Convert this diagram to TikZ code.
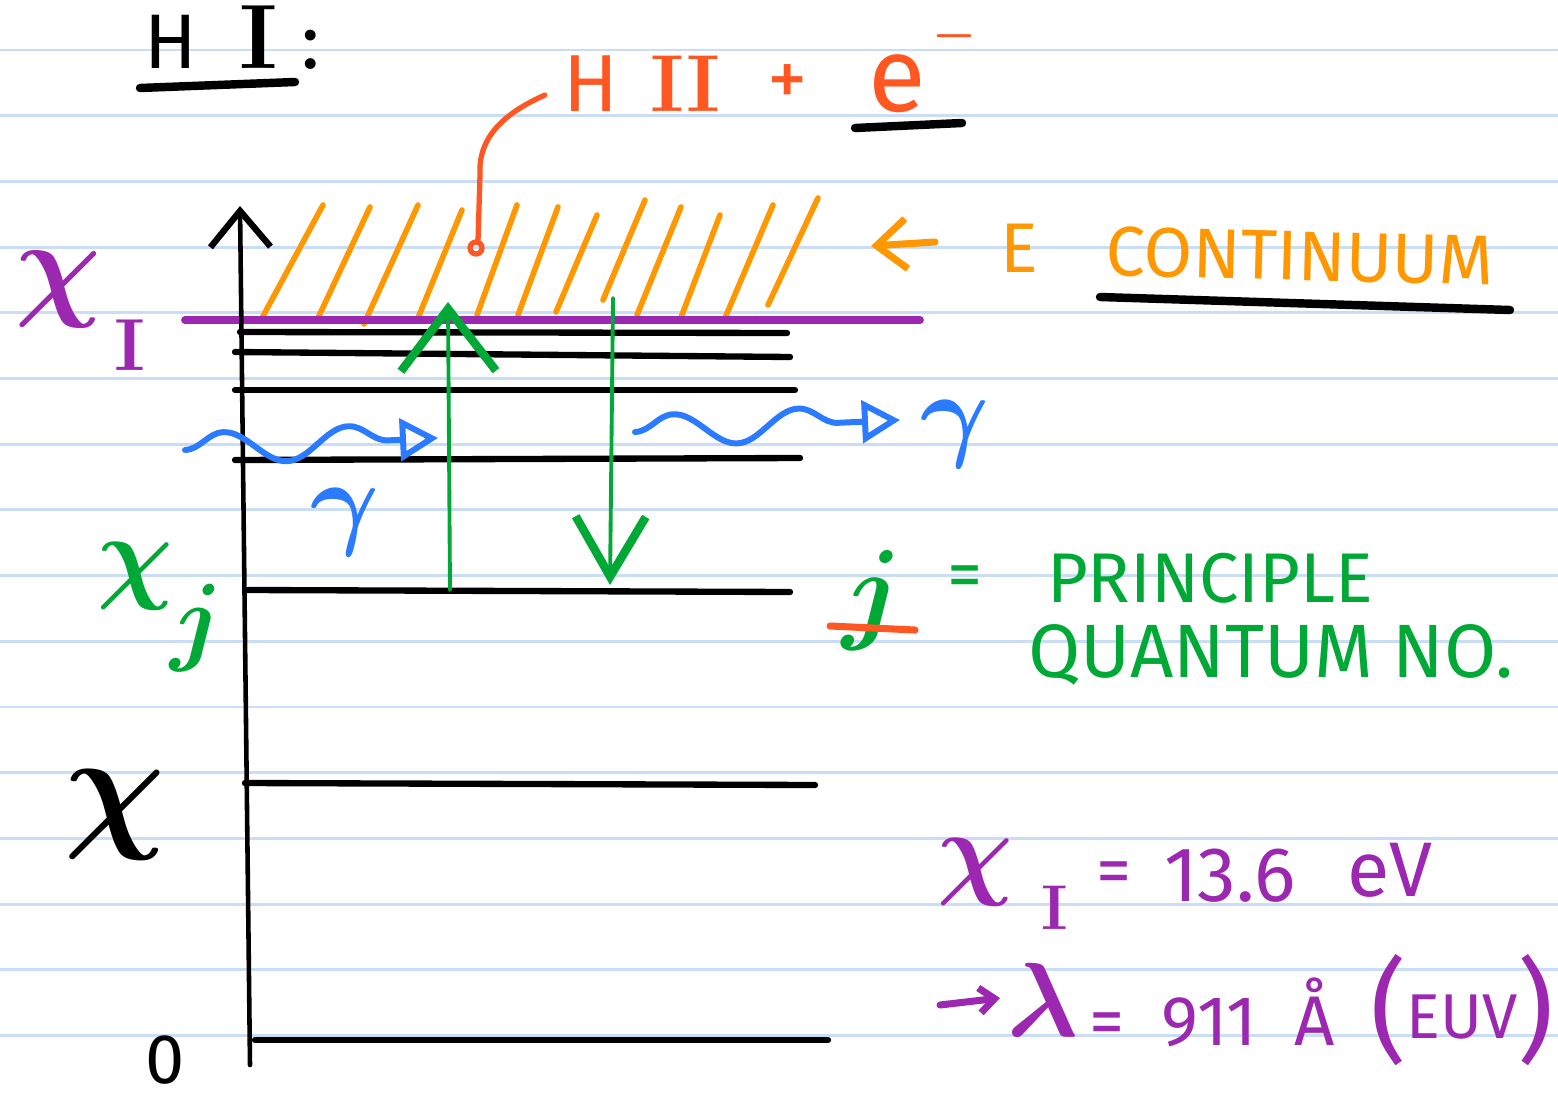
\documentclass[tikz,border=0pt]{standalone}
\usepackage{fontspec}
\setsansfont{Fira Sans}
\usetikzlibrary{arrows.meta,decorations.pathmorphing}
\definecolor{ruled}{HTML}{C9DDF7}
\definecolor{ionpurple}{HTML}{9C27B0}
\definecolor{contorange}{HTML}{FF9800}
\definecolor{ionred}{HTML}{FF5722}
\definecolor{lvlgreen}{HTML}{00A836}
\definecolor{photonblue}{HTML}{2A7BFF}
\newcommand{\handsize}[1]{\fontsize{#1}{#1}\selectfont}
\newcommand{\bigmath}[2]{\scalebox{#1}{\boldmath$#2$}}
\newcommand{\ionnum}[1]{\textrm{\bfseries #1}}
\begin{document}
\begin{tikzpicture}[x=0.01cm, y=-0.01cm, line cap=round, line join=round,
    ink/.style={line width=2pt},
    level/.style={line width=1.8pt},
    hatch/.style={contorange, line width=1.6pt},
    photon/.style={photonblue, line width=1.7pt, decorate,
      decoration={snake, amplitude=0.16cm, segment length=1.25cm, post length=0.45cm}},
    hand/.style={font=\handsize{20}\sffamily, inner sep=0pt},
    greek/.style={inner sep=0pt}]
  \useasboundingbox (0,0) rectangle (1558,1097);
  %%%%%%%%%%%%%%%%%%%%%%%%%%%%%%%%%
  \fill[white] (0,0) rectangle (1558,1097);
  \foreach \k in {0,...,15}
    \draw[ruled, line width=0.8pt] (0,{50+65.7*\k}) -- (1558,{50+65.7*\k});
  %%%%%%%%%%%%%%%%%%%%%%%%%%%%%%%%%
  % continuum hatching
  \foreach \xa/\ya/\xb/\yb in {262/318/323/205, 318/318/370/207, 364/324/418/205,
      418/318/462/210, 477/315/517/205, 518/315/558/207, 556/312/597/215,
      603/300/645/200, 637/315/681/207, 680/320/720/215, 725/318/773/205, 768/305/818/198}
    \draw[hatch] (\xa,\ya) -- (\xb,\yb);
  \fill[ionred] (762,320) circle(0.03cm);
  % ionisation line
  \coordinate (ionL) at (185,320);
  \coordinate (ionR) at (920,320);
  \draw[ionpurple, line width=2.2pt] (ionL) -- (ionR);
  % bound levels
  \foreach \n/\xa/\ya/\xb/\yb in {1/240/332/787/333, 2/235/352/790/357, 3/235/390/795/390,
      4/235/460/800/458, 5/248/590/790/592, 6/245/783/815/785, 7/255/1040/828/1040}{
    \coordinate (L\n) at (\xa,\ya);
    \coordinate (R\n) at (\xb,\yb);
    \draw[level] (L\n) -- (R\n);
  }
  % energy axis
  \coordinate (axbot) at (250,1065);
  \coordinate (axtop) at (240,206);
  \draw[line width=1.3pt, -{Straight Barb[length=0.36cm,width=0.6cm,line width=1.8pt]}] (axbot) -- (axtop);
  %%%%%%%%%%%%%%%%%%%%%%%%%%%%%%%%%
  % transitions
  \coordinate (upfoot) at (450,590);
  \coordinate (uptip) at (448,302);
  \coordinate (dnfoot) at (613,298);
  \coordinate (dntip) at (610,585);
  \draw[lvlgreen, line width=1.1pt, -{Straight Barb[length=0.62cm,width=0.95cm,line width=2.4pt]}] (upfoot) -- (uptip);
  \draw[lvlgreen, line width=1.1pt, -{Straight Barb[length=0.6cm,width=0.7cm,line width=2.4pt]}] (dnfoot) -- (dntip);
  % photons
  \coordinate (ph1a) at (185,450);
  \coordinate (ph1b) at (438,438);
  \coordinate (ph2a) at (635,432);
  \coordinate (ph2b) at (900,420);
  \draw[photon, -{Triangle[open,length=0.38cm,width=0.42cm,line width=1.7pt]}] (ph1a) -- (ph1b);
  \draw[photon, -{Triangle[open,length=0.38cm,width=0.42cm,line width=1.7pt]}] (ph2a) -- (ph2b);
  \node[greek, photonblue] (gam1) at (345,522) {\bigmath{3}{\gamma}};
  \node[greek, photonblue] (gam2) at (955,434) {\bigmath{3}{\gamma}};
  %%%%%%%%%%%%%%%%%%%%%%%%%%%%%%%%%
  % title
  \node[hand, font=\handsize{22}\sffamily] (title) at (232,38) {H\hspace{0.55em}{\handsize{26}\ionnum{I}}\hspace{0.3em}:};
  \draw[line width=2.4pt] (140,88) -- (295,82);
  % ionised state
  \node[hand, ionred, font=\handsize{23}\sffamily] (hii) at (642,84) {H\hspace{0.4em}\ionnum{II}};
  \node[hand, ionred, font=\handsize{23}\sffamily] (plus) at (788,86) {+};
  \node[hand, ionred, font=\handsize{30}\sffamily] (elec) at (897,84) {e};
  \node[greek, ionred] (eminus) at (955,36) {\bigmath{1.4}{-}};
  \draw[line width=2.4pt] (855,128) -- (962,123);
  \coordinate (leadA) at (545,95);
  \coordinate (leadB) at (480,175);
  \coordinate (leaddot) at (476,248);
  \draw[ionred, line width=1.5pt] (leadA) .. controls (500,115) and (478,140) .. (leadB) -- (478,241);
  \draw[ionred, line width=1.5pt] (leaddot) circle(0.06cm);
  % continuum label
  \coordinate (contA) at (935,242);
  \coordinate (contB) at (871,246);
  \draw[contorange, line width=2pt, -{Straight Barb[length=0.3cm,width=0.5cm,line width=2pt]}] (contA) -- (contB);
  \node[hand, contorange] (econt) at (1019,248) {E};
  \node[hand, contorange, rotate=-1.5] (contin) at (1300,256) {CONTINUUM};
  \draw[line width=2.4pt] (1100,297) -- (1510,310);
  %%%%%%%%%%%%%%%%%%%%%%%%%%%%%%%%%
  % level labels
  \node[greek, ionpurple] (chiI) at (58,290) {\bigmath{3.4}{\chi}};
  \node[greek, ionpurple, font=\handsize{21}] (subI) at (130,345) {\ionnum{I}};
  \node[greek, lvlgreen] (chij) at (135,576) {\bigmath{3}{\chi}};
  \node[greek, lvlgreen] (subj) at (197,628) {\bigmath{2.8}{j}};
  \node[greek] (chi) at (115,815) {\bigmath{4}{\chi}};
  \node[hand, font=\handsize{20}\sffamily] (zero) at (165,1060) {0};
  %%%%%%%%%%%%%%%%%%%%%%%%%%%%%%%%%
  % quantum number
  \node[greek, lvlgreen] (qj) at (872,600) {\bigmath{3.2}{j}};
  \draw[ionred, line width=2pt] (830,626) -- (915,630);
  \node[hand, lvlgreen] (qeq) at (965,582) {=};
  \node[hand, lvlgreen] (princ) at (1210,578) {PRINCIPLE};
  \node[hand, lvlgreen, font=\handsize{21.5}\sffamily] (qnum) at (1271,655) {QUANTUM NO.};
  %%%%%%%%%%%%%%%%%%%%%%%%%%%%%%%%%
  % ionisation energy
  \node[greek, ionpurple] (chiR) at (975,872) {\bigmath{3}{\chi}};
  \node[greek, ionpurple, font=\handsize{18}] (subR) at (1055,908) {\ionnum{I}};
  \node[hand, ionpurple] (eqR) at (1114,878) {=};
  \node[hand, ionpurple, font=\handsize{22}\sffamily] (energy) at (1230,876) {13.6};
  \node[hand, ionpurple, font=\handsize{22}\sffamily] (evunit) at (1390,870) {eV};
  \coordinate (lamA) at (940,1005);
  \coordinate (lamB) at (1000,998);
  \draw[ionpurple, line width=2pt, -{Straight Barb[length=0.15cm,width=0.25cm,line width=2pt]}] (lamA) -- (lamB);
  \node[greek, ionpurple] (lam) at (1043,1000) {\bigmath{3}{\lambda}};
  \node[hand, ionpurple] (wave) at (1212,1012) {=\ \ 911\ \ Å};
  \node[hand, ionpurple] (euv) at (1462,1010) {{\handsize{32}(}\raisebox{3pt}{\handsize{18}EUV}{\handsize{32})}};
\end{tikzpicture}
\end{document}
